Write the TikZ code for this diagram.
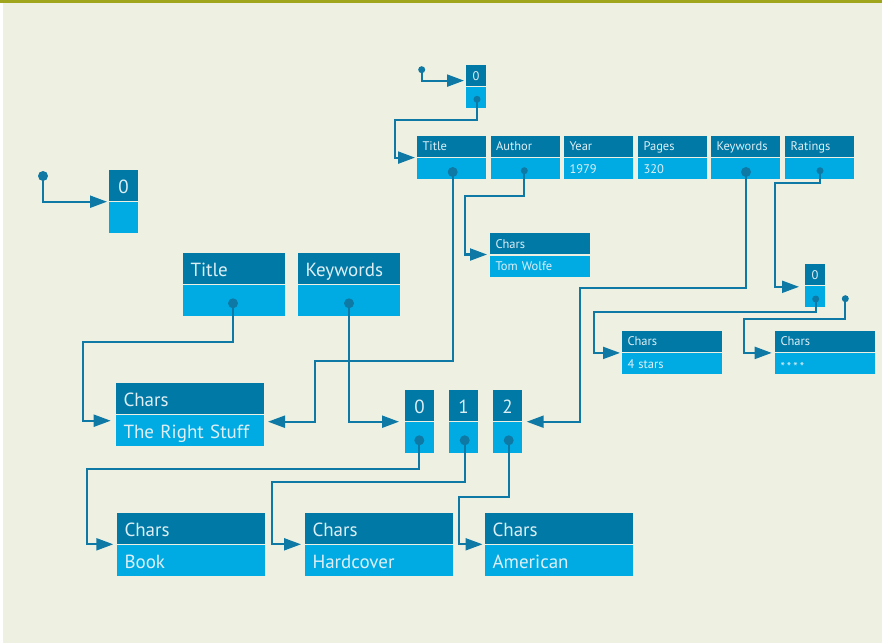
\documentclass[tikz,border=0pt]{standalone}
\usepackage{fontspec}
\setmainfont{PT Sans}
\usetikzlibrary{arrows.meta,calc}
\definecolor{bg}{HTML}{EEF1E1}
\definecolor{bar}{HTML}{A0A61C}
\definecolor{hdr}{HTML}{0079A6}
\definecolor{bdy}{HTML}{00ABE3}
\definecolor{ln}{HTML}{0E79A5}
\definecolor{txt}{HTML}{DDEFF5}
\tikzset{
  cell/.style={rectangle, inner sep=0pt, outer sep=0pt, anchor=north west, text=txt},
  hdrcell/.style={cell, fill=hdr},
  bdycell/.style={cell, fill=bdy},
  bigtext/.style={font=\fontsize{19}{19}\selectfont, text height=15.8pt, text depth=0pt},
  smalltext/.style={font=\fontsize{12.5}{12.5}\selectfont, text height=9.2pt, text depth=0pt},
  conn/.style={draw=ln, line width=2.1pt, -{Triangle[length=17pt,width=12pt]}},
  bigdot/.style={circle, fill=ln, inner sep=0pt, minimum size=10pt},
  smalldot/.style={circle, fill=ln, inner sep=0pt, minimum size=7pt},
}
% big record: name, x, y, width, header text, body text
\newcommand\bigrec[6]{%
  \pgfmathsetmacro\rtw{#4-15}%
  \node[hdrcell, bigtext, minimum width=#4pt, minimum height=30.5pt, inner xsep=7.5pt,
        text width=\rtw pt, align=left] (#1-h) at (#2,#3) {#5};
  \node[bdycell, bigtext, minimum width=#4pt, minimum height=30.7pt, inner xsep=7.5pt,
        text width=\rtw pt, align=left] (#1-b) at ($(#1-h.south west)+(0,1.4)$) {#6};
}
% small record
\newcommand\smallrec[6]{%
  \pgfmathsetmacro\rtw{#4-11}%
  \node[hdrcell, smalltext, minimum width=#4pt, minimum height=20.6pt, inner xsep=5.5pt,
        text width=\rtw pt, align=left] (#1-h) at (#2,#3) {#5};
  \node[bdycell, smalltext, minimum width=#4pt, minimum height=21pt, inner xsep=5.5pt,
        text width=\rtw pt, align=left] (#1-b) at ($(#1-h.south west)+(0,1.8)$) {#6};
}
% big array cell: name, x, y, label
\newcommand\bigarr[4]{%
  \node[hdrcell, bigtext, minimum width=29pt, minimum height=31pt] (#1-h) at (#2,#3) {#4};
  \node[bdycell, minimum width=29pt, minimum height=30.6pt] (#1-b) at ($(#1-h.south west)+(0,1.4)$) {};
}
\newcommand\smallarr[4]{%
  \node[hdrcell, smalltext, minimum width=20pt, minimum height=20.8pt] (#1-h) at (#2,#3) {#4};
  \node[bdycell, minimum width=20pt, minimum height=21pt] (#1-b) at ($(#1-h.south west)+(0,1.4)$) {};
}
\begin{document}
\begin{tikzpicture}[x=1pt,y=-1pt]
\useasboundingbox (0,0) rectangle (882,643);
\fill[white] (0,0) rectangle (882,643);
\fill[bg] (3,0) rectangle (882,643);
\fill[bar] (0,0) rectangle (882,3);

% arrays
\bigarr{a0}{109}{170}{0}
\bigarr{arr0}{405}{390}{0}
\bigarr{arr1}{449}{390}{1}
\bigarr{arr2}{493}{390}{2}
\smallarr{top0}{466}{65}{0}
\smallarr{r0}{805}{264}{0}

% object row
\smallrec{oTitle}{417}{136}{69}{Title}{}
\smallrec{oAuthor}{490.5}{136}{69}{Author}{}
\smallrec{oYear}{564}{136}{69}{Year}{1979}
\smallrec{oPages}{638}{136}{69}{Pages}{320}
\smallrec{oKeywords}{711}{136}{69}{Keywords}{}
\smallrec{oRatings}{785}{136}{69}{Ratings}{}

% small strings
\smallrec{TW}{490}{233.3}{100}{Chars}{Tom Wolfe}
\smallrec{stA}{622}{331}{100}{Chars}{4 stars}
\smallrec{stB}{775}{331}{100}{Chars}{\raisebox{-3pt}{*\,*\,*\,*}}

% big records
\bigrec{sT}{183}{253.3}{102}{Title}{}
\bigrec{sK}{298}{253.3}{102}{Keywords}{}
\bigrec{RS}{116}{383.3}{148}{Chars}{The Right Stuff}
\bigrec{Book}{117}{513}{148}{Chars}{Book}
\bigrec{HC}{305}{513}{148}{Chars}{Hardcover}
\bigrec{AM}{485}{513}{148}{Chars}{American}

% dots
\node[bigdot] (p0) at (43,176) {};
\node[smalldot] (pTop) at (421.7,69.7) {};
\node[smalldot] (dTop) at (477,99.3) {};
\node[bigdot] (dTitle) at (452.7,172) {};
\node[smalldot] (dAuthor) at (524.3,170.7) {};
\node[bigdot] (dKeywords) at (746,172) {};
\node[smalldot] (dRatings) at (820,170.7) {};
\node[smalldot] (dR0) at (815.7,299) {};
\node[smalldot] (pFree) at (845.3,298.7) {};
\node[bigdot] (dsT) at (233,303.3) {};
\node[bigdot] (dsK) at (349,303.3) {};
\node[bigdot] (dA0) at (419.3,440.3) {};
\node[bigdot] (dA1) at (464.7,440.3) {};
\node[bigdot] (dA2) at (508.7,440.3) {};

% connectors
\draw[conn] (p0.center) |- ($(a0-h.south west)+(-2,0.7)$);
\draw[conn] (pTop.center) |- ($(top0-h.west)+(-2,5.2)$);
\draw[conn] (dTop.center) |- (394.7,120) |- ($(oTitle-h.south west)+(-2,1)$);
\draw[conn] (dAuthor.center) |- (465,195.7) |- ($(TW-h.south west)+(-3,0.6)$);
\draw[conn] (dTitle.center) |- (315,361) |- ($(RS-h.south east)+(4,7.9)$);
\draw[conn] (dKeywords.center) |- (580,288.3) |- ($(arr2-h.south east)+(4.7,0.7)$);
\draw[conn] (dRatings.center) |- (775,182.7) |- ($(r0-h.south west)+(-6,2)$);
\draw[conn] (dR0.center) |- (594,311.7) |- ($(stA-h.south west)+(-2,1.3)$);
\draw[conn] (pFree.center) |- (744.3,319) |- ($(stB-h.south west)+(-3.3,1.3)$);
\draw[conn] (dsT.center) |- (83.3,341.7) |- ($(RS-h.south west)+(-5.3,6.9)$);
\draw[conn] (dsK.center) |- ($(arr0-h.south west)+(-6,0.7)$);
\draw[conn] (dA0.center) |- (87.4,469.3) |- ($(Book-h.south west)+(-3.7,0.8)$);
\draw[conn] (dA1.center) |- (272,482.3) |- ($(HC-h.south west)+(-4,0.8)$);
\draw[conn] (dA2.center) |- (458.8,497.3) |- ($(AM-h.south west)+(-2.5,0.8)$);
\end{tikzpicture}
\end{document}
